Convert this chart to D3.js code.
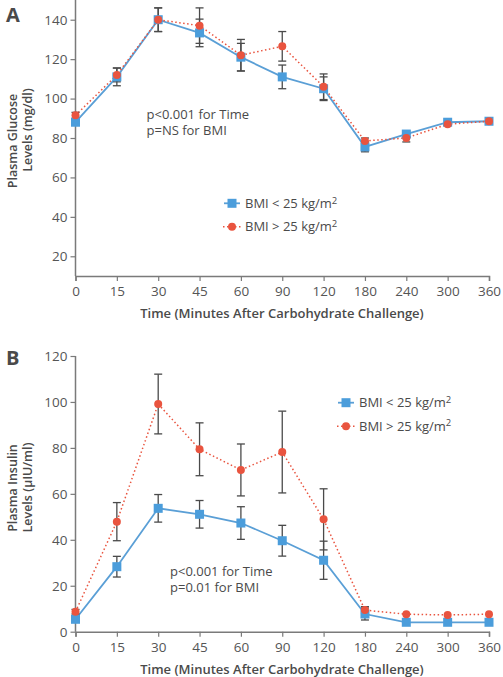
<!DOCTYPE html>
<html>
<head>
<meta charset="utf-8">
<script src="https://cdn.jsdelivr.net/npm/d3@7/dist/d3.min.js"></script>
<style>
html,body{margin:0;padding:0;background:#fff;}
svg{display:block;}
text{font-family:"Open Sans","Noto Sans",sans-serif;}
</style>
</head>
<body>
<svg id="chart" width="503" height="677"></svg>
<script>
// ---------- data ----------
const times = ["0","15","30","45","60","90","120","180","240","300","360"];
const glucoseTicks = [20,40,60,80,100,120,140];
const insulinTicks = [0,20,40,60,80,100,120];

const glucoseLow  = [88, 111, 140, 133.3, 121, 111, 105, 75.5, 82, 88, 88.5];
const glucoseLowSE = [1.5, 4.5, 6, 7, 7, 6, 6, 2.5, 1.5, 0, 0];
const glucoseHigh = [91.5, 112, 140, 137, 122, 126.5, 106, 78.5, 80, 87, 88.5];
const glucoseHighSE = [1.5, 3.5, 6, 9, 8, 7.5, 6.5, 1.5, 2, 0, 0];

const insulinLow  = [5.4, 28.3, 53.7, 51.1, 47.3, 39.6, 31.1, 7.7, 4.1, 4.1, 4.1];
const insulinLowSE = [1, 4.5, 6, 6, 7.1, 6.7, 8.3, 2.6, 0, 0, 0];
const insulinHigh = [8.7, 47.9, 99.1, 79.4, 70.4, 78.2, 48.9, 9.4, 7.6, 7.3, 7.6];
const insulinHighSE = [1, 8.3, 13, 11.5, 11.3, 17.8, 13.3, 1.5, 0, 0, 0];

const seriesNames = ["BMI < 25 kg/m", "BMI > 25 kg/m"];

// ---------- style ----------
const BLUE = "#4b9ddb", BLUE_LINE = "#5a9fd6", RED = "#e9543f";
const AXIS = "#7a7a7a", TXT = "#4a4a4a", ERR = "#4a4a4a";

const svg = d3.select("#chart");

function panel(cfg) {
  const g = svg.append("g");
  const x = d3.scalePoint().domain(times).range([75.5, 489]);
  const y = d3.scaleLinear().domain(cfg.domain).range(cfg.yRange);

  // axes
  const xAxis = g.append("g").attr("transform", `translate(0,${cfg.yRange[0]})`)
    .call(d3.axisBottom(x).tickSize(5).tickPadding(4));
  const yAxis = g.append("g").attr("transform", `translate(${x.range()[0]},0)`)
    .call(d3.axisLeft(y).tickValues(cfg.ticks).tickSize(5).tickPadding(3));
  [xAxis, yAxis].forEach(a => {
    a.select(".domain").attr("stroke", AXIS).attr("stroke-width", 1.5);
    a.selectAll(".tick line").attr("stroke", AXIS).attr("stroke-width", 1.2);
    a.selectAll(".tick text").attr("fill", "#555").style("font-size", "13.5px")
      .style("font-family", '"Open Sans",sans-serif').style("font-weight", 400);
  });
  xAxis.selectAll(".tick text").attr("dy", "0.85em");
  yAxis.select(".domain").attr("d", `M0,${cfg.yRange[0]}V${cfg.yRange[1]}`);

  // axis titles
  g.append("text").attr("x", 282).attr("y", cfg.xTitleY).attr("text-anchor", "middle")
    .attr("fill", TXT).style("font-size", "13px").style("font-weight", 600)
    .text("Time (Minutes After Carbohydrate Challenge)");
  cfg.yTitle.forEach((t, i) => {
    g.append("text").attr("transform", `translate(${[17, 32][i]},${t.c}) rotate(-90)`)
      .attr("text-anchor", "middle").attr("fill", TXT)
      .style("font-size", "12.5px").style("font-weight", 600).text(t.s);
  });

  // panel letter
  g.append("text").attr("x", 6).attr("y", cfg.letterY).attr("fill", TXT)
    .style("font-size", "20px").style("font-weight", 700).text(cfg.letter);

  const line = d3.line().x((d, i) => x(times[i])).y(d => y(d));

  // lines
  g.append("path").datum(cfg.low).attr("d", line).attr("fill", "none")
    .attr("stroke", BLUE_LINE).attr("stroke-width", 1.8);
  g.append("path").datum(cfg.high).attr("d", line).attr("fill", "none")
    .attr("stroke", RED).attr("stroke-width", 1.5).attr("stroke-dasharray", "1.5,2.5");

  // error bars
  [[cfg.low, cfg.lowSE], [cfg.high, cfg.highSE]].forEach(([vals, se]) => {
    vals.forEach((v, i) => {
      if (!se[i]) return;
      const cx = x(times[i]), y1 = y(v + se[i]), y2 = y(v - se[i]);
      const eg = g.append("g").attr("stroke", ERR).attr("stroke-width", 1.3);
      eg.append("line").attr("x1", cx).attr("x2", cx).attr("y1", y1).attr("y2", y2);
      eg.append("line").attr("x1", cx - 4).attr("x2", cx + 4).attr("y1", y1).attr("y2", y1);
      eg.append("line").attr("x1", cx - 4).attr("x2", cx + 4).attr("y1", y2).attr("y2", y2);
    });
  });

  // markers
  g.selectAll(null).data(cfg.low).enter().append("rect")
    .attr("x", (d, i) => x(times[i]) - 4.5).attr("y", d => y(d) - 4.5)
    .attr("width", 9).attr("height", 9).attr("fill", BLUE);
  g.selectAll(null).data(cfg.high).enter().append("circle")
    .attr("cx", (d, i) => x(times[i])).attr("cy", d => y(d)).attr("r", 4)
    .attr("fill", RED);

  // legend
  const lg = g.append("g");
  seriesNames.forEach((name, i) => {
    const ly = cfg.legY + i * 23.5;
    const lx = cfg.legX;
    if (i === 0) {
      lg.append("line").attr("x1", lx - 8).attr("x2", lx + 8).attr("y1", ly).attr("y2", ly)
        .attr("stroke", BLUE_LINE).attr("stroke-width", 1.8);
      lg.append("rect").attr("x", lx - 4.5).attr("y", ly - 4.5).attr("width", 9).attr("height", 9)
        .attr("fill", BLUE);
    } else {
      lg.append("line").attr("x1", lx - 9).attr("x2", lx + 9).attr("y1", ly).attr("y2", ly)
        .attr("stroke", RED).attr("stroke-width", 1.5).attr("stroke-dasharray", "1.5,2.5");
      lg.append("circle").attr("cx", lx).attr("cy", ly).attr("r", 4).attr("fill", RED);
    }
    const t = lg.append("text").attr("x", lx + 13).attr("y", ly).attr("dy", "0.35em")
      .attr("fill", TXT).style("font-size", "13px").text(name);
    t.append("tspan").attr("dy", "-0.45em").style("font-size", "9.5px").text("2");
  });

  // annotation
  cfg.note.forEach((s, i) => {
    g.append("text").attr("x", cfg.noteX).attr("y", cfg.noteY + i * 16.3).attr("dy", "0.35em")
      .attr("fill", TXT).style("font-size", "13px").text(s);
  });
}

panel({
  letter: "A", letterY: 22,
  domain: [10, 150], yRange: [276, 0], ticks: glucoseTicks,
  low: glucoseLow, lowSE: glucoseLowSE, high: glucoseHigh, highSE: glucoseHighSE,
  xTitleY: 318,
  yTitle: [{s: "Plasma Glucose", c: 141}, {s: "Levels (mg/dl)", c: 130}],
  legX: 232, legY: 203.3,
  note: ["p<0.001 for Time", "p=NS for BMI"], noteX: 146.5, noteY: 114
});

panel({
  letter: "B", letterY: 365,
  domain: [0, 120], yRange: [631.7, 356], ticks: insulinTicks,
  low: insulinLow, lowSE: insulinLowSE, high: insulinHigh, highSE: insulinHighSE,
  xTitleY: 674,
  yTitle: [{s: "Plasma Insulin", c: 488}, {s: "Levels (\u00b5IU/ml)", c: 487.5}],
  legX: 346, legY: 402.7,
  note: ["p<0.001 for Time", "p=0.01 for BMI"], noteX: 170, noteY: 571
});
</script>
</body>
</html>
